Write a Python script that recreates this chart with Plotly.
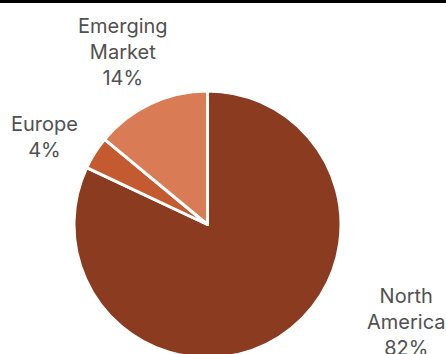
import plotly.graph_objects as go

# Revenue share by region
regions = ["North America", "Europe", "Emerging Market"]
shares = [82, 4, 14]
label_lines = ["North<br>America", "Europe", "Emerging<br>Market"]
slice_colors = ["#8A3B20", "#C45A30", "#D97B55"]

W, H = 446, 358
M_L, M_R, M_T, M_B = 0, 31, 91, 0
PW, PH = W - M_L - M_R, H - M_T - M_B


def px_to_paper(x, y):
    return (x - M_L) / PW, (H - M_B - y) / PH


fig = go.Figure(
    go.Pie(
        labels=regions,
        values=shares,
        sort=False,
        direction="clockwise",
        rotation=0,
        marker=dict(colors=slice_colors, line=dict(color="white", width=3)),
        textinfo="none",
        hoverinfo="label+percent",
        showlegend=False,
    )
)

# Label anchor points (pixel centres of each text block)
label_centres = {"North America": (406, 322), "Europe": (44, 137), "Emerging Market": (123, 52)}
for name, lines, val in zip(regions, label_lines, shares):
    px, py = px_to_paper(*label_centres[name])
    fig.add_annotation(
        x=px, y=py, xref="paper", yref="paper",
        text=f"{lines}<br>{val}%",
        showarrow=False, align="center",
        xanchor="center", yanchor="middle",
        font=dict(family="Inter, sans-serif", size=20, color="#505050"),
    )

# Thin black rule along the top edge
y0 = px_to_paper(0, 3)[1]
y1 = px_to_paper(0, 0)[1]
fig.add_shape(type="rect", xref="paper", yref="paper",
              x0=px_to_paper(0, 0)[0], x1=px_to_paper(W, 0)[0], y0=y0, y1=y1,
              fillcolor="black", line=dict(width=0))

fig.update_layout(
    width=W, height=H,
    margin=dict(l=M_L, r=M_R, t=M_T, b=M_B),
    paper_bgcolor="white", plot_bgcolor="white",
)

fig.write_html(
    "out.html",
    post_script="document.documentElement.style.overflow='hidden';document.body.style.overflow='hidden';document.body.style.margin='0';",
)
